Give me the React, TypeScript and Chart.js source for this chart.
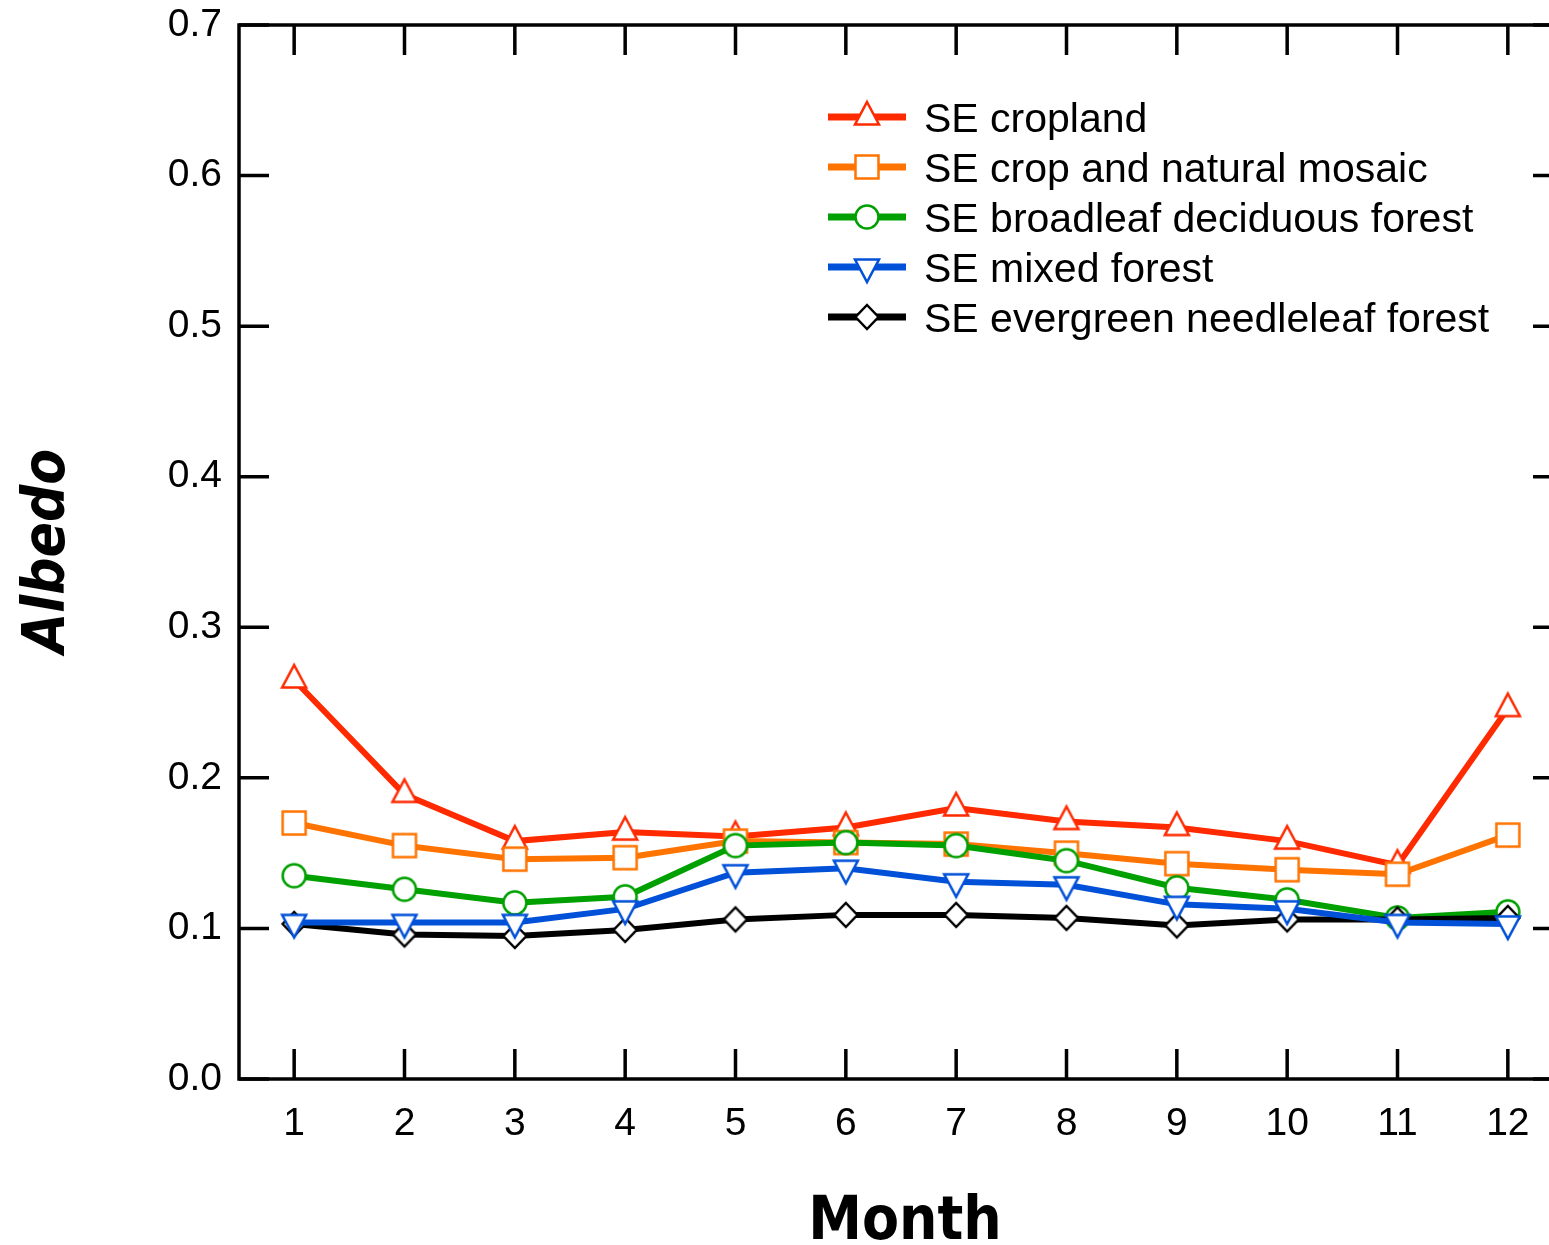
import React, { useEffect, useRef } from "react";
import { Chart, registerables } from "chart.js";

Chart.register(...registerables);

const months = ["1", "2", "3", "4", "5", "6", "7", "8", "9", "10", "11", "12"];
const yTicks = [0, 0.1, 0.2, 0.3, 0.4, 0.5, 0.6, 0.7];

const seCropland = [0.265, 0.189, 0.158, 0.164, 0.161, 0.167, 0.18, 0.171, 0.167, 0.158, 0.142, 0.246];
const seCropMosaic = [0.17, 0.155, 0.146, 0.147, 0.158, 0.157, 0.156, 0.15, 0.143, 0.139, 0.136, 0.162];
const seBroadleaf = [0.135, 0.126, 0.117, 0.121, 0.155, 0.157, 0.155, 0.145, 0.127, 0.119, 0.107, 0.111];
const seMixed = [0.104, 0.104, 0.104, 0.113, 0.137, 0.14, 0.131, 0.129, 0.116, 0.113, 0.104, 0.103];
const seEvergreen = [0.103, 0.096, 0.095, 0.099, 0.106, 0.109, 0.109, 0.107, 0.102, 0.106, 0.106, 0.107];

const seriesLabels = [
  "SE cropland",
  "SE crop and natural mosaic",
  "SE broadleaf deciduous forest",
  "SE mixed forest",
  "SE evergreen needleleaf forest",
];
const seriesColors = ["#ff2a00", "#ff7400", "#00a000", "#0050d8", "#000000"];
const seriesShapes = ["tri", "square", "circle", "invtri", "diamond"];

function makeMarker(shape: string, color: string): HTMLCanvasElement {
  const c = document.createElement("canvas");
  const W = 40;
  const H = 40;
  c.width = W;
  c.height = H;
  const ctx = c.getContext("2d")!;
  const cx = W / 2;
  const cy = H / 2;
  ctx.lineWidth = 2.5;
  ctx.lineJoin = "miter";
  ctx.strokeStyle = color;
  ctx.fillStyle = "#ffffff";
  ctx.beginPath();
  if (shape === "tri") {
    ctx.moveTo(cx, cy - 15);
    ctx.lineTo(cx + 12, cy + 7.5);
    ctx.lineTo(cx - 12, cy + 7.5);
    ctx.closePath();
  } else if (shape === "invtri") {
    ctx.moveTo(cx - 12, cy - 7.5);
    ctx.lineTo(cx + 12, cy - 7.5);
    ctx.lineTo(cx, cy + 15);
    ctx.closePath();
  } else if (shape === "square") {
    ctx.rect(cx - 11.5, cy - 11.5, 23, 23);
  } else if (shape === "circle") {
    ctx.arc(cx, cy, 11.5, 0, Math.PI * 2);
  } else {
    ctx.moveTo(cx, cy - 12);
    ctx.lineTo(cx + 11.5, cy);
    ctx.lineTo(cx, cy + 12);
    ctx.lineTo(cx - 11.5, cy);
    ctx.closePath();
  }
  ctx.fill();
  ctx.stroke();
  return c;
}

export default function App() {
  const ref = useRef<HTMLCanvasElement | null>(null);

  useEffect(() => {
    if (!ref.current) return;
    const markers = seriesShapes.map((s, i) => makeMarker(s, seriesColors[i]));
    const values = [seCropland, seCropMosaic, seBroadleaf, seMixed, seEvergreen];
    const drawOrder = [4, 3, 2, 0, 1];

    const framePlugin = {
      id: "frameTicks",
      afterDraw(chart: any) {
        const ctx = chart.ctx;
        const a = chart.chartArea;
        const xs = chart.scales.x;
        const ys = chart.scales.y;
        ctx.save();
        ctx.strokeStyle = "#000";
        ctx.lineWidth = 3.5;
        ctx.strokeRect(a.left, a.top, a.right - a.left, a.bottom - a.top);
        ctx.beginPath();
        months.forEach((_, i) => {
          const px = xs.getPixelForValue(i);
          ctx.moveTo(px, a.bottom);
          ctx.lineTo(px, a.bottom - 30);
          ctx.moveTo(px, a.top);
          ctx.lineTo(px, a.top + 30);
        });
        yTicks.forEach((v) => {
          const py = ys.getPixelForValue(v);
          ctx.moveTo(a.left, py);
          ctx.lineTo(a.left + 30, py);
          ctx.moveTo(a.right, py);
          ctx.lineTo(a.right - 30, py);
        });
        ctx.stroke();

        // legend
        const lx0 = 828;
        const lx1 = 906;
        const mx = 867;
        const tx = 924;
        seriesLabels.forEach((lab, i) => {
          const y = 117 + i * 50;
          ctx.strokeStyle = seriesColors[i];
          ctx.lineWidth = 7;
          ctx.beginPath();
          ctx.moveTo(lx0, y);
          ctx.lineTo(lx1, y);
          ctx.stroke();
          const m = markers[i];
          ctx.drawImage(m, mx - m.width / 2, y - m.height / 2);
          ctx.fillStyle = "#000";
          ctx.font = "41px 'Liberation Sans', Arial, sans-serif";
          ctx.textAlign = "left";
          ctx.textBaseline = "alphabetic";
          ctx.fillText(lab, tx, y + 14.5);
        });

        // axis titles
        ctx.fillStyle = "#000";
        ctx.font = "bold 60px 'DejaVu Sans Condensed', 'DejaVu Sans', sans-serif";
        ctx.textAlign = "center";
        ctx.textBaseline = "alphabetic";
        ctx.fillText("Month", 905, 1239);
        ctx.save();
        ctx.translate(64, 551);
        ctx.rotate(-Math.PI / 2);
        ctx.font = "italic bold 58px 'DejaVu Sans Condensed', 'DejaVu Sans', sans-serif";
        ctx.fillText("Albedo", 0, 0);
        ctx.restore();
        ctx.restore();
      },
    };

    const chart = new Chart(ref.current, {
      type: "line",
      data: {
        labels: months,
        datasets: seriesLabels.map((lab, i) => ({
          label: lab,
          data: values[i],
          borderColor: seriesColors[i],
          backgroundColor: "#ffffff",
          borderWidth: 6,
          tension: 0,
          pointStyle: markers[i] as any,
          pointRadius: 12,
          order: drawOrder[i],
          fill: false,
        })),
      },
      options: {
        responsive: false,
        animation: false,
        events: [],
        layout: { padding: { top: 25, right: 37, left: 0, bottom: 0 } },
        plugins: {
          legend: { display: false },
          tooltip: { enabled: false },
        },
        scales: {
          x: {
            type: "category",
            offset: true,
            grid: { display: false, drawTicks: false },
            border: { display: false },
            ticks: {
              color: "#000",
              padding: 22,
              font: { family: "'Liberation Sans', Arial, sans-serif", size: 39 },
              maxRotation: 0,
              autoSkip: false,
            },
            afterFit: (s: any) => {
              s.height = 166;
              s.paddingLeft = 0;
              s.paddingRight = 0;
            },
          },
          y: {
            type: "linear",
            min: 0,
            max: 0.7,
            grid: { display: false, drawTicks: false },
            border: { display: false },
            ticks: {
              stepSize: 0.1,
              color: "#000",
              padding: 17,
              font: { family: "'Liberation Sans', Arial, sans-serif", size: 39 },
              callback: (v: any) => Number(v).toFixed(1),
            },
            afterFit: (s: any) => {
              s.width = 239;
              s.paddingTop = 0;
              s.paddingBottom = 0;
            },
          },
        },
      },
      plugins: [framePlugin],
    });
    return () => chart.destroy();
  }, []);

  return (
    <div
      style={{
        position: "fixed",
        left: 0,
        top: 0,
        width: 1549,
        height: 1245,
        overflow: "hidden",
        background: "#fff",
      }}
    >
      <canvas
        ref={ref}
        width={1600}
        height={1245}
        style={{ width: 1600, height: 1245, display: "block" }}
      />
    </div>
  );
}
